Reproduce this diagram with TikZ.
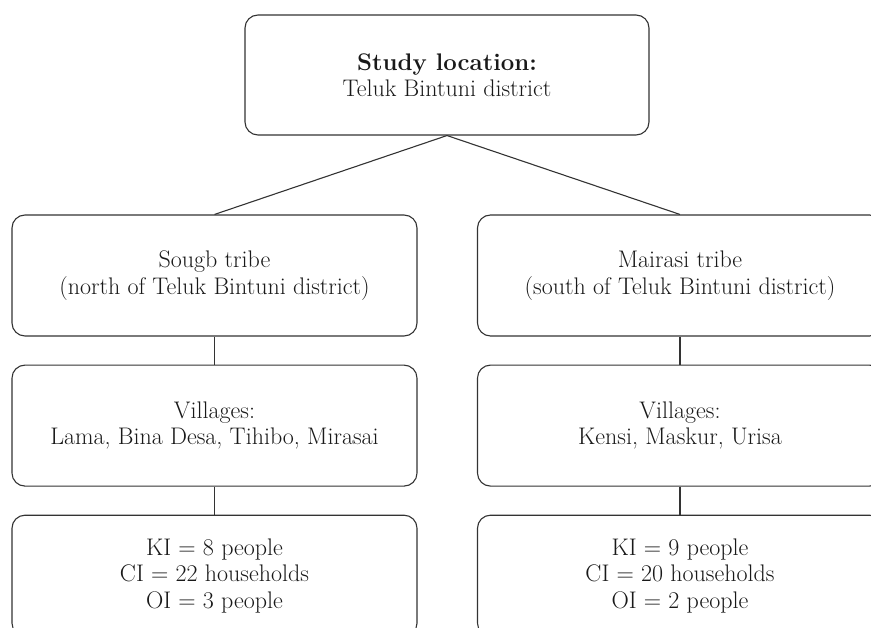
\documentclass[tikz,border=0pt]{standalone}
\usepackage{fontspec}
\usepackage{tikz}
\usetikzlibrary{positioning}
\definecolor{boxLine}{gray}{0.2}
\definecolor{boxText}{gray}{0.1}

\tikzset{
    tierbox/.style={draw=boxLine, line width=1.1pt, rounded corners=13pt,
        minimum width=405pt, minimum height=121pt, align=center,
        text=boxText, font=\fontsize{24}{26.5}\selectfont},
    link/.style={draw=boxLine, line width=1.1pt}
}

\begin{document}
\begin{tikzpicture}[x=1pt, y=-1pt]
    \useasboundingbox (0,0) rectangle (871,628);
    \clip (0,0) rectangle (871,628);

    % Top
    \node[tierbox, minimum width=404pt, minimum height=120pt] (loc) at (447,75)
        {\textbf{Study location:}\\Teluk Bintuni district};

    % Tribes
    \node[tierbox] (sougb) at (214.5,275.5)
        {Sougb tribe\\(north of Teluk Bintuni district)};
    \node[tierbox] (mairasi) at (680,275.5)
        {Mairasi tribe\\(south of Teluk Bintuni district)};

    % Villages
    \node[tierbox, below=28pt of sougb] (vilS)
        {Villages:\\Lama, Bina Desa, Tihibo, Mirasai};
    \node[tierbox, below=28pt of mairasi] (vilM)
        {Villages:\\Kensi, Maskur, Urisa};

    % Informants
    \node[tierbox, below=28pt of vilS] (infS)
        {KI = 8 people\\CI = 22 households\\OI = 3 people};
    \node[tierbox, below=28pt of vilM] (infM)
        {KI = 9 people\\CI = 20 households\\OI = 2 people};

    \draw[link] (loc.south) -- (sougb.north);
    \draw[link] (loc.south) -- (mairasi.north);
    \draw[link] (sougb) -- (vilS);
    \draw[link] (mairasi) -- (vilM);
    \draw[link] (vilS) -- (infS);
    \draw[link] (vilM) -- (infM);
\end{tikzpicture}
\end{document}
